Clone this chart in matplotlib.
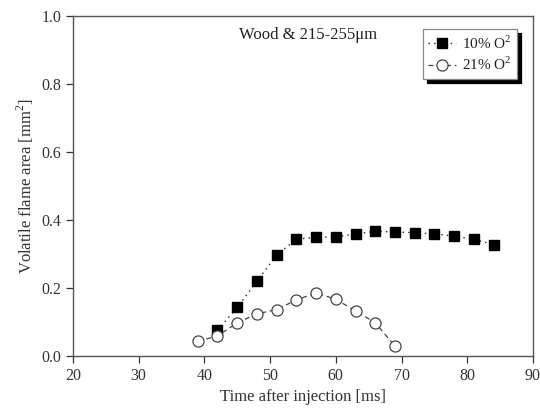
import matplotlib
matplotlib.use("Agg")
import matplotlib.pyplot as plt

plt.rcParams['font.family'] = ['Liberation Serif', 'DejaVu Serif']
plt.rcParams['mathtext.fontset'] = 'custom'
plt.rcParams['mathtext.rm'] = 'Liberation Serif'

time_10 = [42, 45, 48, 51, 54, 57, 60, 63, 66, 69, 72, 75, 78, 81, 84]
area_10 = [0.076, 0.143, 0.220, 0.297, 0.344, 0.349, 0.351, 0.359, 0.367, 0.365, 0.363, 0.359, 0.353, 0.343, 0.328]
time_21 = [39, 42, 45, 48, 51, 54, 57, 60, 63, 66, 69]
area_21 = [0.044, 0.059, 0.098, 0.124, 0.137, 0.165, 0.186, 0.167, 0.133, 0.098, 0.029]
label_10 = "10% O$^2$"
label_21 = "21% O$^2$"
xticks = [20, 30, 40, 50, 60, 70, 80, 90]
yticks = [0.0, 0.2, 0.4, 0.6, 0.8, 1.0]

fig = plt.figure(figsize=(5.4, 4.16), dpi=100)
ax = fig.add_axes([0.135, 0.144, 0.852, 0.8175])

ax.plot(time_10, area_10, linestyle=(0, (1, 3)), color='#222222', lw=1.0,
        marker='s', markersize=7, markerfacecolor='black', markeredgecolor='black',
        label=label_10)
ax.plot(time_21, area_21, linestyle=(0, (4, 3)), color='#444444', lw=0.9,
        marker='o', markersize=8, markerfacecolor='white', markeredgecolor='#444444',
        markeredgewidth=0.9, label=label_21)

ax.set_xlim(20, 90)
ax.set_ylim(0, 1.0)
ax.set_xticks(xticks)
ax.set_yticks(yticks)
ax.set_yticklabels([f"{v:.1f}" for v in yticks])
ax.tick_params(direction='out', length=5, width=0.9, labelsize=11.5, colors='#333333')
for s in ax.spines.values():
    s.set_color('#555555')
    s.set_linewidth(1.0)

ax.set_xlabel("Time after injection [ms]", fontsize=12, color='#333333')
ax.set_ylabel("Volatile flame area [mm$^2$]", fontsize=12, color='#333333')
ax.text(0.511, 0.944, "Wood & 215-255μm", transform=ax.transAxes, ha='center', va='center',
        fontsize=12, color='#222222')

leg = ax.legend(loc='upper right', bbox_to_anchor=(0.965, 0.962), fancybox=False,
                shadow={'color': 'black', 'alpha': 1.0, 'ox': 3, 'oy': -3},
                framealpha=1, edgecolor='#888888', fontsize=11, handlelength=1.8,
                handletextpad=0.4, borderpad=0.35, labelspacing=0.3, borderaxespad=0)
leg.get_frame().set_linewidth(0.9)
for t in leg.get_texts():
    t.set_color('#222222')

fig.savefig("out.png", dpi=100)
